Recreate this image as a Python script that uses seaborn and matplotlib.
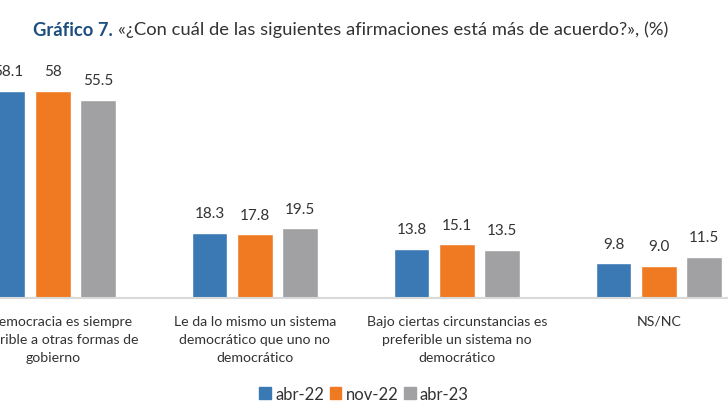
import matplotlib
matplotlib.use("Agg")
import matplotlib.pyplot as plt
import seaborn as sns
import pandas as pd
from matplotlib.patches import Patch

categories = [
    "La democracia es siempre\npreferible a otras formas de\ngobierno",
    "Le da lo mismo un sistema\ndemocrático que uno no\ndemocrático",
    "Bajo ciertas circunstancias es\npreferible un sistema no\ndemocrático",
    "NS/NC",
]
series = ["abr-22", "nov-22", "abr-23"]
abr22 = [58.1, 18.3, 13.8, 9.8]
nov22 = [58.0, 17.8, 15.1, 9.0]
abr23 = [55.5, 19.5, 13.5, 11.5]
labels_abr22 = ["58.1", "18.3", "13.8", "9.8"]
labels_nov22 = ["58", "17.8", "15.1", "9.0"]
labels_abr23 = ["55.5", "19.5", "13.5", "11.5"]
colors = ["#3a79b3", "#f07a22", "#a1a1a3"]

rows = []
for s, vals in zip(series, [abr22, nov22, abr23]):
    for c, v in zip(categories, vals):
        rows.append({"cat": c, "serie": s, "val": v})
df = pd.DataFrame(rows)

sns.set_theme(style="white")
plt.rcParams["font.family"] = ["Lato", "DejaVu Sans"]

fig = plt.figure(figsize=(7.28, 4.10), dpi=100)
ax = fig.add_axes([0, (410 - 299) / 410, 1, (299 - 60) / 410])
sns.barplot(data=df, x="cat", y="val", hue="serie", palette=colors,
            width=0.67, gap=0.22, ax=ax, legend=False, saturation=1)
ax.set_xlim(-0.262, 3.342)
ax.set_ylim(0, 239 / 3.57)

for cont, labs in zip(ax.containers, [labels_abr22, labels_nov22, labels_abr23]):
    ax.bar_label(cont, labels=labs, padding=9, fontsize=11, color="#333333")

for sp in ["top", "right", "left"]:
    ax.spines[sp].set_visible(False)
ax.spines["bottom"].set_color("#d9d9d9")
ax.spines["bottom"].set_linewidth(1.5)
ax.set_yticks([])
ax.set_xlabel("")
ax.set_ylabel("")
ax.tick_params(axis="x", length=0, pad=12)
ax.set_xticks(range(len(categories)))
ax.set_xticklabels(categories, fontsize=10.2, color="#333333", linespacing=1.6, va="top")

handles = [Patch(color=c) for c in colors]
fig.legend(handles, series, loc="center", bbox_to_anchor=(0.5, (410 - 395) / 410),
           ncol=3, frameon=False, fontsize=12, handlelength=0.7, handleheight=0.7,
           handletextpad=0.25, columnspacing=0.35, labelcolor="#333333")

t1 = fig.text(33 / 728, 1 - 30 / 410, "Gráfico 7.", fontsize=13.2, fontweight="bold",
              color="#1c4e7e", va="center", ha="left")
fig.canvas.draw()
bb = t1.get_window_extent()
fig.text((bb.x1 + 5) / 728, 1 - 30 / 410,
         "«¿Con cuál de las siguientes afirmaciones está más de acuerdo?», (%)",
         fontsize=13.2, color="#333333", va="center", ha="left")

fig.savefig("out.png", dpi=100)
